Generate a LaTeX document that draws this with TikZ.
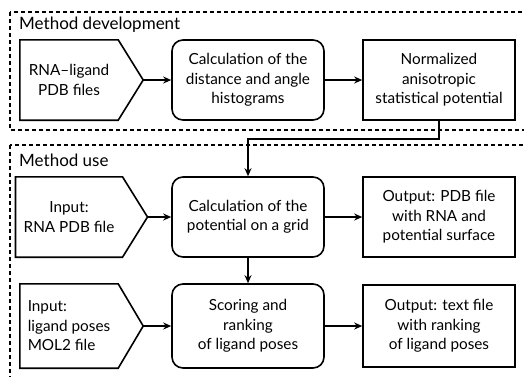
\documentclass[tikz,border=0pt]{standalone}
\usepackage{fontspec}
\setmainfont{Lato}
\usetikzlibrary{arrows.meta}

\tikzset{
  stage/.style={draw, line width=1.6pt, rounded corners=11pt, minimum width=152pt, minimum height=80pt, align=center},
  result/.style={draw, line width=1.6pt, minimum width=152pt, minimum height=80pt, align=center},
  infile/.style={minimum width=98pt, minimum height=80pt, inner sep=8pt},
  frame/.style={line width=1.3pt, dash pattern=on 4pt off 3pt},
  flow/.style={->, line width=1.5pt},
  heading/.style={anchor=base west, inner sep=0pt, font=\fontsize{17}{20}\selectfont},
}

\begin{document}
\begin{tikzpicture}[x=1pt, y=-1pt, >={Stealth[length=8pt,width=7pt]},
  font=\fontsize{15.3}{19.5}\selectfont]

\clip (0,0) rectangle (524,376);

% Dashed frames
\draw[frame] (10,12) rectangle (540,130);
\draw[frame] (10,145) rectangle (540,400);
\node[heading] (devtitle) at (19,29) {Method development};
\node[heading] (usetitle) at (19,166) {Method use};

% Method development row
\node[infile, align=center] (pdbs) at (69,80) {RNA--ligand\\PDB files};
\node[stage] (hist) at (248,80) {Calculation of the\\distance and angle\\histograms};
\node[result] (pot) at (439,80) {Normalized\\anisotropic\\statistical potential};

% Method use rows
\node[infile, align=center] (rna) at (69,217) {Input:\\RNA PDB file};
\node[stage] (grid) at (248,217) {Calculation of the\\potential on a grid};
\node[result] (surf) at (439,217) {Output: PDB file\\with RNA and\\potential surface};

\node[infile, align=left, inner xsep=3pt, minimum height=84pt] (lig) at (69,326) {Input:\\ligand poses\\MOL2 file};
\node[stage, minimum height=84pt] (score) at (248,326) {Scoring and\\ranking\\of ligand poses};
\node[result, minimum height=82pt] (rank) at (439,326) {Output: text file\\with ranking\\of ligand poses};

% Input pentagons
\foreach \n in {pdbs, rna, lig} {
  \coordinate (\n tip) at ([xshift=25pt]\n.east);
  \draw[line width=1.6pt, line join=miter] (\n.north west) -- (\n.north east) -- (\n tip)
    -- (\n.south east) -- (\n.south west) -- cycle;
}

% Connectors
\draw[flow] (pdbstip) -- (hist);
\draw[flow] (hist) -- (pot);
\draw[flow] (pot.south) -- ++(0,18) -| (grid.north);
\draw[flow] (rnatip) -- (grid);
\draw[flow] (grid) -- (surf);
\draw[flow] (grid) -- (score);
\draw[flow] (ligtip) -- (score);
\draw[flow] (score) -- (rank);

\end{tikzpicture}
\end{document}
